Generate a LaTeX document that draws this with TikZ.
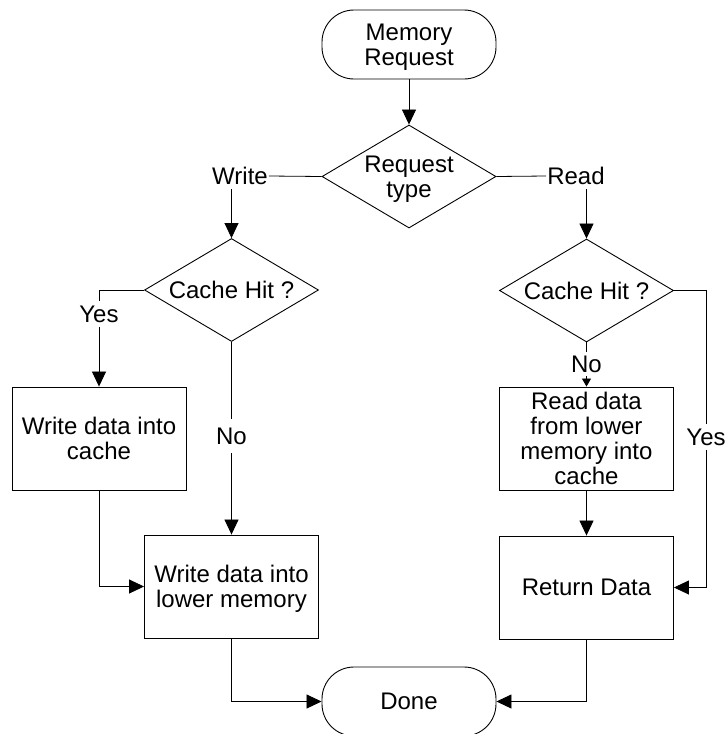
\documentclass[tikz,border=0pt]{standalone}
\usepackage{fontspec}
\setmainfont{Liberation Sans}
\usetikzlibrary{shapes.geometric,arrows.meta}
\begin{document}
\begin{tikzpicture}[x=1pt,y=-1pt,
  every node/.style={font=\fontsize{24}{25}\selectfont},
  term/.style={draw, line width=0.9pt, minimum width=174pt, minimum height=69pt, rounded corners=32pt, inner sep=0pt, align=center, text depth=0pt},
  dec/.style={draw, shape=diamond, aspect=1.69, minimum width=174pt, minimum height=103pt, inner sep=0pt, align=center, text depth=0pt, line width=0.9pt},
  proc/.style={draw, rectangle, minimum width=174pt, minimum height=103pt, inner sep=0pt, align=center, text depth=0pt, line width=0.9pt},
  lbl/.style={inner xsep=1pt, inner ysep=4pt, text depth=0pt},
  conn/.style={line width=0.8pt},
  arr/.style={conn, -{Triangle[length=15pt,width=14pt]}},
  sarr/.style={conn, -{Triangle[length=8pt,width=9pt]}},
]
\useasboundingbox (0,0) rectangle (725,734);

% shapes
\node[term] (mem) at (409,44.5) {Memory\\Request};
\node[dec] (rt) at (409,176.5) {Request\\type};
\node[dec] (lh) at (231.5,290) {Cache Hit ?};
\node[dec] (rh) at (586.5,290.5) {Cache Hit ?};
\node[proc] (wc) at (99,438.5) {Write data into\\cache};
\node[proc] (wm) at (231.5,586.5) {Write data into\\lower memory};
\node[proc] (rr) at (586.5,438.5) {Read data\\from lower\\memory into\\cache};
\node[proc] (ret) at (586.5,587.5) {Return Data};
\node[term] (done) at (409,701.5) {Done};

% labels
\node[lbl] (wl) at (240,176) {Write};
\node[lbl] (rl) at (576,176) {Read};
\node[lbl, inner ysep=5pt] (yl) at (99,314) {Yes};
\node[lbl, inner ysep=9pt] (nl) at (231.5,436) {No};
\node[lbl, inner ysep=4pt] (nr) at (586.5,364) {No};
\node[lbl, inner ysep=5pt] (yr) at (706,437) {Yes};

% connectors
\draw[arr] (mem.south) -- (rt.north);
\draw[conn] (rt.west) -- (wl.east);
\draw[arr] (wl.south -| lh.north) -- (lh.north);
\draw[conn] (rt.east) -- (rl.west);
\draw[arr] (rl.south -| rh.north) -- (rh.north);

\draw[conn] (lh.west) -| (yl.north);
\draw[arr] (yl.south) -- (wc.north);
\draw[conn] (lh.south) -- (nl.north);
\draw[arr] (nl.south) -- (wm.north);

\draw[conn] (rh.south) -- (nr.north);
\draw[sarr] (nr.south) -- (rr.north);
\draw[conn] (rh.east) -| (yr.north);
\draw[arr] (yr.south) |- (ret.east);

\draw[arr] (wc.south) |- (wm.west);
\draw[arr] (rr.south) -- (ret.north);
\draw[arr] (wm.south) |- (done.west);
\draw[arr] (ret.south) |- (done.east);
\end{tikzpicture}
\end{document}
